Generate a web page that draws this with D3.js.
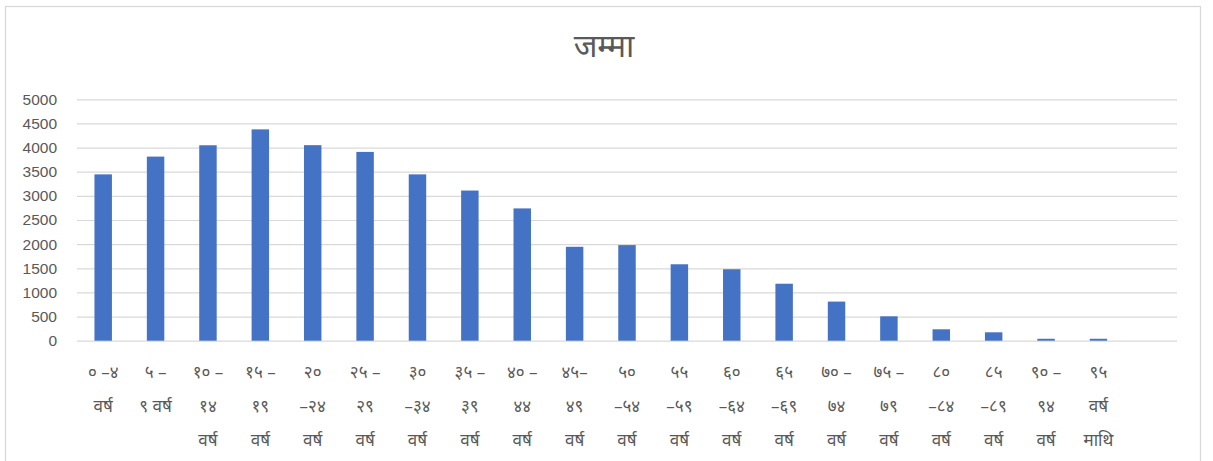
<!DOCTYPE html>
<html>
<head>
<meta charset="utf-8">
<script src="https://cdn.jsdelivr.net/npm/d3@7"></script>
<style>
  body { margin: 0; background: #fff; }
  svg { display: block; font-family: "Open Sans", "Noto Sans", "Noto Sans Devanagari", sans-serif; }
  .tick_label { fill: #595959; font-size: 15px; }
  .cat_label { fill: #595959; font-size: 17px; }
  .chart_title { fill: #595959; font-size: 32px; }
</style>
</head>
<body>
<script>
// age groups, one entry per x slot; each label is kept as its wrapped lines
const categories = [
  "०-४", "५-९", "१०-१४", "१५-१९", "२०-२४", "२५-२९", "३०-३४", "३५-३९",
  "४०-४४", "४५-४९", "५०-५४", "५५-५९", "६०-६४", "६५-६९", "७०-७४",
  "७५-७९", "८०-८४", "८५-८९", "९०-९४", "९५+", ""
];
const categoryLines = [
  ["० –४", "वर्ष"],
  ["५ –", "९ वर्ष"],
  ["१० –", "१४", "वर्ष"],
  ["१५ –", "१९", "वर्ष"],
  ["२०", "–२४", "वर्ष"],
  ["२५ –", "२९", "वर्ष"],
  ["३०", "–३४", "वर्ष"],
  ["३५ –", "३९", "वर्ष"],
  ["४० –", "४४", "वर्ष"],
  ["४५–", "४९", "वर्ष"],
  ["५०", "–५४", "वर्ष"],
  ["५५", "–५९", "वर्ष"],
  ["६०", "–६४", "वर्ष"],
  ["६५", "–६९", "वर्ष"],
  ["७० –", "७४", "वर्ष"],
  ["७५ –", "७९", "वर्ष"],
  ["८०", "–८४", "वर्ष"],
  ["८५", "–८९", "वर्ष"],
  ["९० –", "९४", "वर्ष"],
  ["९५", "वर्ष", "माथि"],
  []
];
const totals = [
  3445, 3813, 4048, 4377, 4050, 3910, 3445, 3110, 2740, 1945,
  1980, 1583, 1480, 1180, 810, 505, 236, 174, 40, 40, null
];
const yTicks = [0, 500, 1000, 1500, 2000, 2500, 3000, 3500, 4000, 4500, 5000];
const titleText = "जम्मा";

const BAR_COLOR = "#4472c4";
const GRID_COLOR = "#d9d9d9";

function drawChart() {
  const width = 1213;
  const height = 461;
  const plot = { left: 77, right: 1177, top: 99.3, bottom: 340.7 };

  const svg = d3.select("body")
    .append("svg")
    .attr("width", width)
    .attr("height", height);

  // outer chart border
  svg.append("rect")
    .attr("x", 5.5)
    .attr("y", 6.5)
    .attr("width", 1195)
    .attr("height", 470)
    .attr("fill", "none")
    .attr("stroke", GRID_COLOR)
    .attr("stroke-width", 1.3);

  svg.append("text")
    .attr("class", "chart_title")
    .attr("x", 604)
    .attr("y", 57)
    .attr("text-anchor", "middle")
    .text(titleText);

  const x = d3.scaleBand()
    .domain(categories.map((d, i) => i))
    .range([plot.left, plot.right])
    .paddingInner(2 / 3)
    .paddingOuter(1 / 3);

  const y = d3.scaleLinear()
    .domain([0, 5000])
    .range([plot.bottom, plot.top]);

  // gridlines + value labels
  const yAxis = d3.axisLeft(y)
    .tickValues(yTicks)
    .tickFormat(d3.format("d"))
    .tickSize(-(plot.right - plot.left))
    .tickPadding(20);

  const yAxisG = svg.append("g")
    .attr("transform", `translate(${plot.left},0)`)
    .call(yAxis);
  yAxisG.select(".domain").remove();
  yAxisG.selectAll(".tick line")
    .attr("stroke", GRID_COLOR)
    .attr("stroke-width", 1.2);
  yAxisG.selectAll(".tick text")
    .attr("class", "tick_label")
    .attr("fill", null)
    .style("font-size", "15.5px")
    .style("font-family", null);

  svg.selectAll("rect.bar")
    .data(totals.map((v, i) => ({ i, v })).filter(d => d.v != null))
    .enter()
    .append("rect")
    .attr("class", "bar")
    .attr("x", d => x(d.i))
    .attr("width", x.bandwidth())
    .attr("y", d => y(d.v))
    .attr("height", d => y(0) - y(d.v))
    .attr("fill", BAR_COLOR);

  // wrapped category labels below the axis
  const labelG = svg.selectAll("g.cat")
    .data(categoryLines)
    .enter()
    .append("g")
    .attr("class", "cat")
    .attr("transform", (d, i) => `translate(${x(i) + x.bandwidth() / 2},0)`);

  labelG.selectAll("text")
    .data(d => d)
    .enter()
    .append("text")
    .attr("class", "cat_label")
    .attr("text-anchor", "middle")
    .attr("y", (d, j) => 378 + j * 34)
    .text(d => d);
}

drawChart();
</script>
</body>
</html>
